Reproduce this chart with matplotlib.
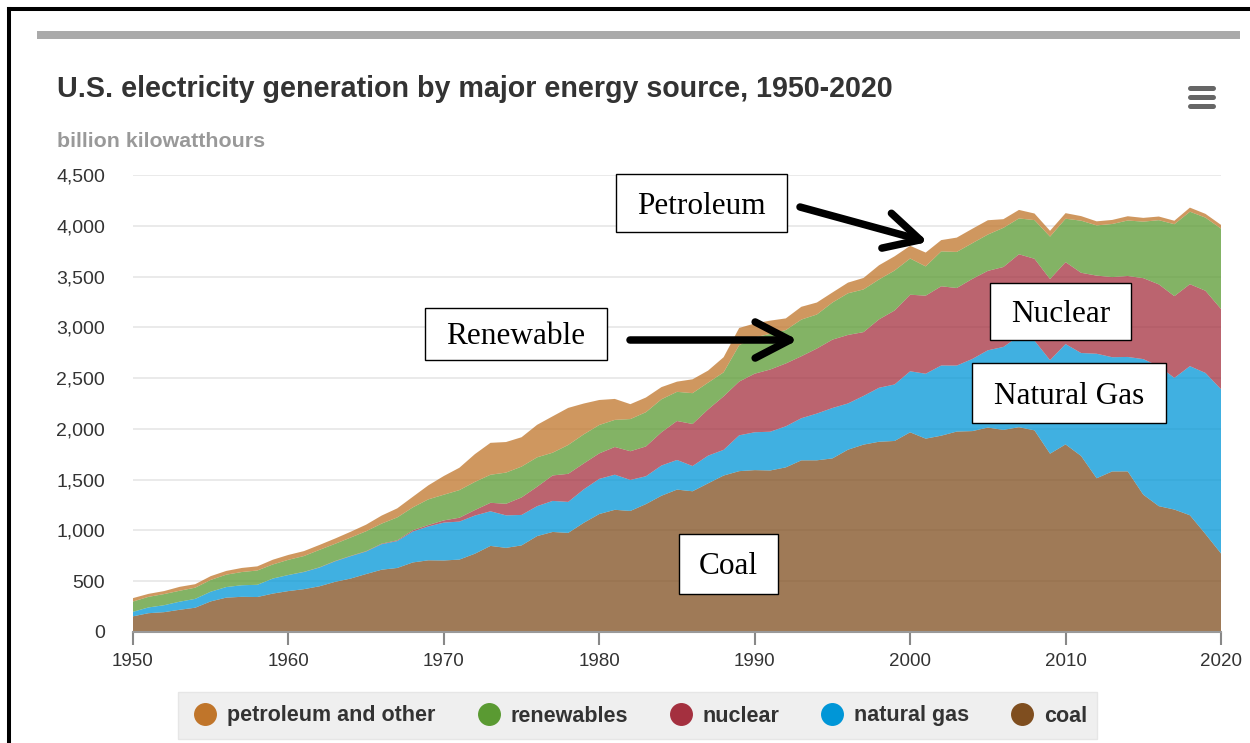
import matplotlib
matplotlib.use('Agg')
import matplotlib.pyplot as plt
from matplotlib.patches import Rectangle
from matplotlib.lines import Line2D
from matplotlib.ticker import FuncFormatter

# US electricity generation, billion kWh
years = list(range(1950, 2021))
coal = [154.5, 185.2, 195.4, 218.8, 239.1, 301.4, 338.5, 346.4, 344.4, 378.4,
        403.1, 421.9, 450.2, 493.9, 526.2, 570.9, 613.5, 630.5, 684.9, 706.0,
        704.4, 713.1, 771.1, 847.7, 828.4, 852.8, 944.4, 985.2, 975.7, 1075.0,
        1161.6, 1203.2, 1192.0, 1259.4, 1341.7, 1402.1, 1385.8, 1463.8, 1540.7, 1583.9,
        1594.0, 1590.6, 1621.2, 1690.1, 1690.7, 1709.4, 1795.2, 1845.0, 1873.5, 1881.1,
        1966.3, 1904.0, 1933.1, 1973.7, 1978.3, 2012.9, 1990.5, 2016.5, 1985.8, 1755.9,
        1847.3, 1733.4, 1514.0, 1581.1, 1581.7, 1352.4, 1239.1, 1205.8, 1149.5, 965.0,
        773.4]
natural_gas = [44.6, 56.7, 68.3, 79.6, 87.0, 95.3, 104.0, 114.0, 120.2, 148.0,
               158.0, 169.0, 184.3, 202.0, 220.0, 221.6, 251.2, 264.8, 304.4, 333.3,
               372.9, 374.0, 375.7, 340.9, 320.1, 299.8, 294.6, 305.5, 305.4, 329.5,
               346.2, 345.8, 305.3, 274.1, 297.4, 291.9, 248.5, 272.6, 252.8, 352.6,
               372.8, 381.6, 404.1, 414.9, 460.2, 496.1, 455.1, 479.4, 531.3, 556.4,
               601.0, 639.1, 691.0, 649.9, 710.1, 761.0, 816.4, 896.6, 883.0, 921.0,
               987.7, 1013.7, 1225.9, 1124.8, 1126.6, 1334.7, 1378.3, 1296.4, 1468.2, 1585.8,
               1617.5]
nuclear = [0, 0, 0, 0, 0, 0, 0, 0.01, 0.2, 0.2,
           0.5, 1.7, 2.3, 3.2, 3.3, 3.7, 5.5, 7.7, 12.5, 13.9,
           21.8, 38.1, 54.1, 83.5, 114.0, 172.5, 191.1, 250.9, 276.4, 255.2,
           251.1, 272.7, 282.8, 293.7, 327.6, 383.7, 414.0, 455.3, 527.0, 529.4,
           576.9, 612.6, 618.8, 610.3, 640.4, 673.4, 674.7, 628.6, 673.7, 728.3,
           753.9, 768.8, 780.1, 763.7, 788.5, 782.0, 787.2, 806.4, 806.2, 798.9,
           807.0, 790.2, 769.3, 789.0, 797.2, 797.2, 805.7, 805.0, 807.1, 809.4,
           789.9]
renewables = [100.9, 104.4, 109.8, 107.8, 110.2, 116.2, 122.0, 130.2, 140.8, 138.6,
              149.4, 155.5, 172.1, 169.1, 180.3, 196.0, 197.5, 225.1, 225.0, 252.8,
              253.0, 272.0, 277.4, 276.3, 307.2, 303.7, 289.9, 224.1, 284.1, 286.5,
              279.7, 267.0, 316.6, 337.2, 324.8, 287.3, 303.5, 263.7, 236.4, 357.9,
              357.2, 351.4, 328.8, 361.0, 335.1, 365.2, 410.2, 420.2, 393.1, 393.5,
              356.5, 288.3, 343.8, 355.3, 351.5, 357.7, 385.8, 352.7, 380.9, 417.7,
              427.4, 512.9, 494.6, 522.6, 546.4, 556.5, 632.0, 708.5, 713.9, 720.2,
              791.3]
petroleum = [33.7, 29.3, 29.4, 38.4, 34.4, 37.1, 36.9, 40.1, 40.9, 46.7,
             48.0, 48.6, 48.4, 52.0, 57.0, 64.8, 78.9, 89.3, 104.3, 137.8,
             184.2, 220.2, 273.6, 314.3, 300.9, 289.1, 320.0, 358.2, 365.1, 303.5,
             246.0, 206.4, 146.8, 144.5, 119.8, 100.2, 136.6, 118.5, 148.9, 170.0,
             137.0, 130.0, 115.0, 126.0, 118.0, 99.0, 105.0, 113.0, 140.0, 140.0,
             125.0, 136.0, 111.0, 141.0, 142.0, 141.0, 85.0, 84.0, 65.0, 57.0,
             55.0, 45.0, 40.0, 40.0, 42.0, 37.0, 36.0, 34.0, 40.0, 37.0,
             37.0]

legend_names = ['petroleum and other', 'renewables', 'nuclear', 'natural gas', 'coal']
legend_colors = ['#c0752a', '#5a9a32', '#a4303f', '#0096d7', '#7f4e1f']

W, H = 1250, 743
fig = plt.figure(figsize=(W / 100, H / 100), dpi=100)

# main chart area (pixel box 133..1221 x 175..632)
ax = fig.add_axes([133 / W, (H - 632) / H, (1221 - 133) / W, (632 - 175) / H])
ax.stackplot(years, coal, natural_gas, nuclear, renewables, petroleum,
             colors=legend_colors[::-1], alpha=0.75, linewidth=0)
ax.set_xlim(1950, 2020)
ax.set_ylim(0, 4500)
ax.set_yticks(range(0, 4501, 500))
ax.set_xticks(range(1950, 2021, 10))
ax.yaxis.set_major_formatter(FuncFormatter(lambda v, p: f'{int(v):,}'))
ax.grid(axis='y', color='#e6e6e6', linewidth=1.2)
ax.set_axisbelow(True)
for s in ['top', 'right', 'left']:
    ax.spines[s].set_visible(False)
ax.spines['bottom'].set_color('#999999')
ax.spines['bottom'].set_linewidth(1.5)
ax.tick_params(axis='y', length=0, pad=20, labelsize=14, labelcolor='#333333')
ax.tick_params(axis='x', length=9, width=1.5, color='#888888', pad=6,
               labelsize=13.5, labelcolor='#333333')
for lab in ax.get_xticklabels() + ax.get_yticklabels():
    lab.set_family('Liberation Sans')

# overlay in pixel coordinates for the page decorations
ov = fig.add_axes([0, 0, 1, 1], zorder=3)
ov.set_xlim(0, W)
ov.set_ylim(H, 0)
ov.axis('off')

ov.plot([9, 9], [9, H], color='black', lw=2.9, solid_capstyle='projecting')
ov.plot([9, W], [9, 9], color='black', lw=2.9, solid_capstyle='projecting')
ov.add_patch(Rectangle((37, 31), 1203, 8, color='#aaaaaa', lw=0))

ov.text(57, 97, 'U.S. electricity generation by major energy source, 1950-2020',
        fontsize=20.6, fontweight='bold', color='#333333', family='Liberation Sans',
        ha='left', va='baseline')
ov.text(57, 147, 'billion kilowatthours', fontsize=15.4, fontweight='bold',
        color='#999999', family='Liberation Sans', ha='left', va='baseline')

for yy in [88, 97, 106]:
    ov.plot([1189.5, 1212.5], [yy, yy], color='#666666', lw=3.6, solid_capstyle='round')

# legend
ov.add_patch(Rectangle((178, 692), 919, 47, facecolor='#efefef', edgecolor='#e6e6e6', lw=1))
handles = [Line2D([], [], linestyle='none', marker='o', markersize=15.5,
                  markerfacecolor=c, markeredgecolor=c) for c in legend_colors]
fig.legend(handles, legend_names, loc='center', bbox_to_anchor=(641 / W, 1 - 716 / H),
           ncol=5, frameon=False, handlelength=1.0, handletextpad=0.52,
           columnspacing=1.95, prop={'family': 'Liberation Sans', 'weight': 'bold', 'size': 15.5},
           labelcolor='#333333')

# annotation boxes
boxes = [('Petroleum', 616, 174, 787, 232),
         ('Renewable', 425, 308, 607, 360),
         ('Nuclear', 990, 283, 1131, 340),
         ('Natural Gas', 972, 363, 1166, 423),
         ('Coal', 679, 534, 778, 594)]
for label, x0, y0, x1, y1 in boxes:
    ov.add_patch(Rectangle((x0, y0), x1 - x0, y1 - y0, facecolor='white',
                           edgecolor='black', lw=1))
    ov.text((x0 + x1) / 2, (y0 + y1) / 2 + 3, label, fontsize=22.5,
            family='Liberation Serif', ha='center', va='center', color='black')

arrow = dict(arrowstyle='->,head_length=1.25,head_width=0.65', lw=5.4, color='black',
             mutation_scale=20, shrinkA=0, shrinkB=0)
ov.annotate('', xy=(928, 242), xytext=(800, 207), arrowprops=arrow)
ov.annotate('', xy=(798, 340), xytext=(630, 340), arrowprops=arrow)

fig.savefig('out.png', dpi=100)
